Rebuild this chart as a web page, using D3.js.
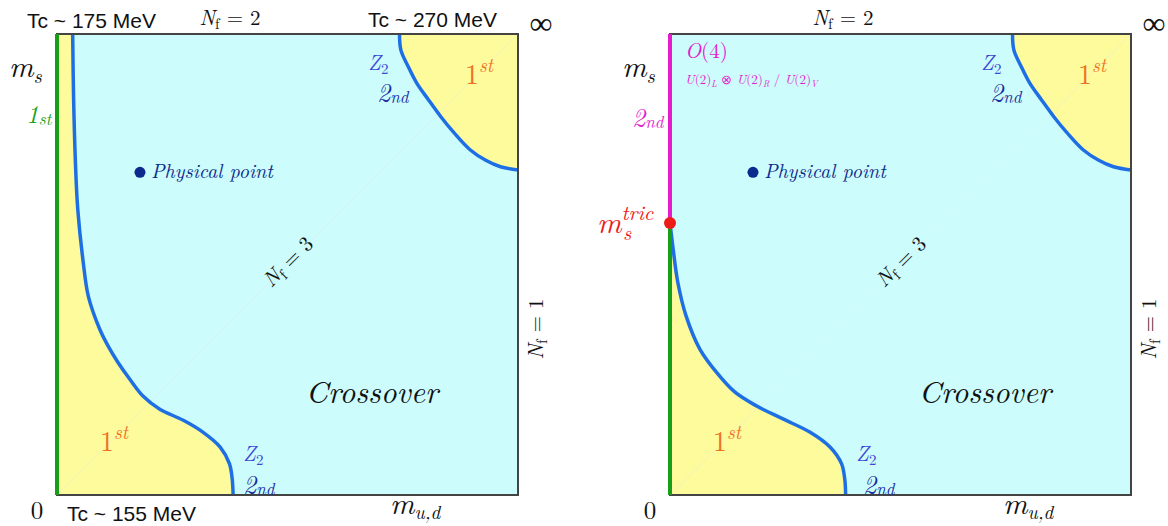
<!DOCTYPE html>
<html>
<head>
<meta charset="utf-8">
<script src="https://cdn.jsdelivr.net/npm/d3@7"></script>
<style>
  body { margin: 0; background: #fff; }
</style>
</head>
<body>
<svg id="chart" width="1168" height="526"></svg>
<script>

// phase boundaries, in (m_ud, m_s) units where the panel spans 0..1
const lowerLineLeft = [[0.034, 1.0], [0.036, 0.86], [0.040, 0.72], [0.045, 0.62], [0.057, 0.504], [0.068, 0.431], [0.093, 0.359], [0.111, 0.323], [0.132, 0.288], [0.158, 0.251], [0.187, 0.214], [0.223, 0.186], [0.274, 0.162], [0.317, 0.136], [0.354, 0.104], [0.374, 0.068], [0.380, 0.035], [0.382, 0.0]]
const lowerLineRight = [[0.0, 0.59], [0.007, 0.532], [0.017, 0.461], [0.035, 0.388], [0.065, 0.316], [0.101, 0.266], [0.141, 0.223], [0.188, 0.193], [0.245, 0.165], [0.304, 0.136], [0.347, 0.104], [0.372, 0.068], [0.379, 0.035], [0.381, 0.0]]
const upperLine = [[0.743, 1.0], [0.746, 0.965], [0.762, 0.929], [0.780, 0.894], [0.806, 0.857], [0.833, 0.820], [0.861, 0.786], [0.896, 0.749], [0.930, 0.726], [0.962, 0.712], [1.0, 0.705]]

const physicalPoint = [0.18, 0.70]
const msTric = 0.59

const topLabels = ["Tc ~ 175 MeV", "Tc ~ 270 MeV"]
const bottomLabel = "Tc ~ 155 MeV"

const svg = d3.select("#chart")
const size = 461
const panelTop = 34

const serif = "'Latin Modern Roman', 'Liberation Serif', serif"
const sans = "'Liberation Sans', Arial, sans-serif"

const cyan = "#ccfcfc"
const yellow = "#fefb9c"
const blue = "#1e6fe4"
const green = "#17a017"
const magenta = "#e41ccc"
const orange = "#ef7124"
const zBlue = "#3b48d6"
const ndBlue = "#1a2aa0"
const navy = "#0c2a8e"
const red = "#ee1b1b"

function label(g, x, y, parts, color, anchor) {
  // parts: [text, fontSize, italic, dy, x]
  let t = g.append("text")
    .attr("x", x)
    .attr("y", y)
    .attr("font-family", serif)
    .attr("fill", color || "#111")
    .attr("text-anchor", anchor || "start")
  parts.forEach(function(p) {
    let s = t.append("tspan")
      .text(p[0])
      .attr("font-size", p[1] + "px")
      .attr("font-style", p[2] ? "italic" : "normal")
      .attr("dy", p[3] || 0)
    if (p[4] != undefined) s.attr("x", p[4])
  })
  return t
}

function drawPanel(left, variant) {

  let g = svg.append("g").attr("transform", "translate(" + left + "," + panelTop + ")")

  let x = d3.scaleLinear().domain([0, 1]).range([0, size])
  let y = d3.scaleLinear().domain([0, 1]).range([size, 0])

  let line = d3.line()
    .x(d => x(d[0]))
    .y(d => y(d[1]))
    .curve(d3.curveCatmullRom.alpha(0.5))

  let lower = variant == "left" ? lowerLineLeft : lowerLineRight

  g.append("rect")
    .attr("width", size)
    .attr("height", size)
    .attr("fill", cyan)

  let lowerFill = line(lower) + "L" + x(0) + "," + y(0)
  if (variant == "left") lowerFill += "L" + x(0) + "," + y(1)
  g.append("path").attr("d", lowerFill + "Z").attr("fill", yellow)

  g.append("path")
    .attr("d", line(upperLine) + "L" + x(1) + "," + y(1) + "Z")
    .attr("fill", yellow)

  // N_f = 3 diagonal
  g.append("line")
    .attr("x1", x(0)).attr("y1", y(0))
    .attr("x2", x(1)).attr("y2", y(1))
    .attr("stroke", "#dde8e8")
    .attr("stroke-opacity", 0.45)
    .attr("stroke-width", 1)

  g.append("path").attr("d", line(lower)).attr("fill", "none").attr("stroke", blue).attr("stroke-width", 3.5)
  g.append("path").attr("d", line(upperLine)).attr("fill", "none").attr("stroke", blue).attr("stroke-width", 3.5)

  g.append("rect")
    .attr("width", size)
    .attr("height", size)
    .attr("fill", "none")
    .attr("stroke", "#444")
    .attr("stroke-width", 2)

  if (variant == "left") {
    g.append("line")
      .attr("x1", x(0)).attr("y1", y(0))
      .attr("x2", x(0)).attr("y2", y(1))
      .attr("stroke", green).attr("stroke-width", 4)
  } else {
    g.append("line")
      .attr("x1", x(0)).attr("y1", y(0))
      .attr("x2", x(0)).attr("y2", y(msTric))
      .attr("stroke", green).attr("stroke-width", 4)
    g.append("line")
      .attr("x1", x(0)).attr("y1", y(msTric))
      .attr("x2", x(0)).attr("y2", y(1))
      .attr("stroke", magenta).attr("stroke-width", 4)
    g.append("circle")
      .attr("cx", x(0)).attr("cy", y(msTric))
      .attr("r", 6).attr("fill", red)
  }

  // physical point
  g.append("circle")
    .attr("cx", x(physicalPoint[0])).attr("cy", y(physicalPoint[1]))
    .attr("r", 5.5).attr("fill", navy)
  label(g, x(physicalPoint[0]) + 11, y(physicalPoint[1]) + 6, [["Physical point", 20, true]], navy)

  // top row
  if (variant == "left") {
    g.append("text").attr("font-family", sans).attr("x", -30).attr("y", -6)
      .attr("font-size", "21px").attr("fill", "#111").text(topLabels[0])
    g.append("text").attr("font-family", sans).attr("x", 311).attr("y", -7)
      .attr("font-size", "21px").attr("fill", "#111").text(topLabels[1])
    g.append("text").attr("font-family", sans).attr("x", 10).attr("y", 487)
      .attr("font-size", "21px").attr("fill", "#111").text(bottomLabel)
  }
  label(g, 173, -9, [["N", 21, true], ["f", 15, false, 4], [" = 2", 21, false, -4]], "#111", "middle")
  g.append("text").attr("x", 484).attr("y", 0).attr("text-anchor", "middle")
    .attr("font-family", "'Liberation Serif', serif").attr("font-size", "32px").attr("fill", "#111").text("\u221e")

  // m_s axis
  label(g, -48, 43, [["m", 30, true], ["s", 20, true, 6]], "#111")
  label(g, -20, 485, [["0", 25, false]], "#111", "middle")
  label(g, 333, 480, [["m", 30, true], ["u,d", 19, true, 5]], "#111")

  // N_f = 1 and N_f = 3
  label(g, 0, 0, [["N", 21, true], ["f", 15, false, 4], [" = 1", 21, false, -4]], "#111", "middle")
    .attr("transform", "translate(" + (size + 25) + "," + y(0.36) + ") rotate(-90)")
  label(g, 0, 0, [["N", 21, true], ["f", 15, false, 4], [" = 3", 21, false, -4]], "#111", "middle")
    .attr("transform", "translate(" + (x(0.503) + 4) + "," + (y(0.504) + 4) + ") rotate(-45)")

  label(g, 315, 369, [["Crossover", 31, true]], "#111", "middle")

  // region labels
  label(g, 311, 36, [["Z", 21, true], ["2", 15, false, 4]], zBlue)
  label(g, 320, 68, [["2", 26, true], ["nd", 17, true, 1]], ndBlue)
  label(g, 408, 50, [["1", 28, false], ["st", 19, true, -12]], orange)
  label(g, 43, 417, [["1", 28, false], ["st", 19, true, -12]], orange)
  label(g, 186, 427, [["Z", 21, true], ["2", 15, false, 4]], zBlue)
  label(g, variant == "left" ? 186 : 193, 460, [["2", 26, true], ["nd", 17, true, 1]], ndBlue)

  if (variant == "left") {
    label(g, -31, 89, [["1", 25, true], ["st", 17, true, 2]], green)
  } else {
    label(g, -38, 93, [["2", 26, true], ["nd", 17, true, 1]], magenta)
    label(g, 15, 24, [["O", 21, true], ["(4)", 21, false]], magenta)
    label(g, 15, 50, [["U", 13, true], ["(2)", 13, false], ["L", 9, true, 3], [" \u2297 ", 13, false, -3],
      ["U", 13, true], ["(2)", 13, false], ["R", 9, true, 3], [" / ", 13, false, -3],
      ["U", 13, true], ["(2)", 13, false], ["V", 9, true, 3]], magenta)
    // m_s^tric
    label(g, -73, 199, [["m", 30, true], ["tric", 21, true, -13], ["s", 20, true, 20, -47]], red)
  }
}

drawPanel(57, "left")
drawPanel(670, "right")

</script>
</body>
</html>
